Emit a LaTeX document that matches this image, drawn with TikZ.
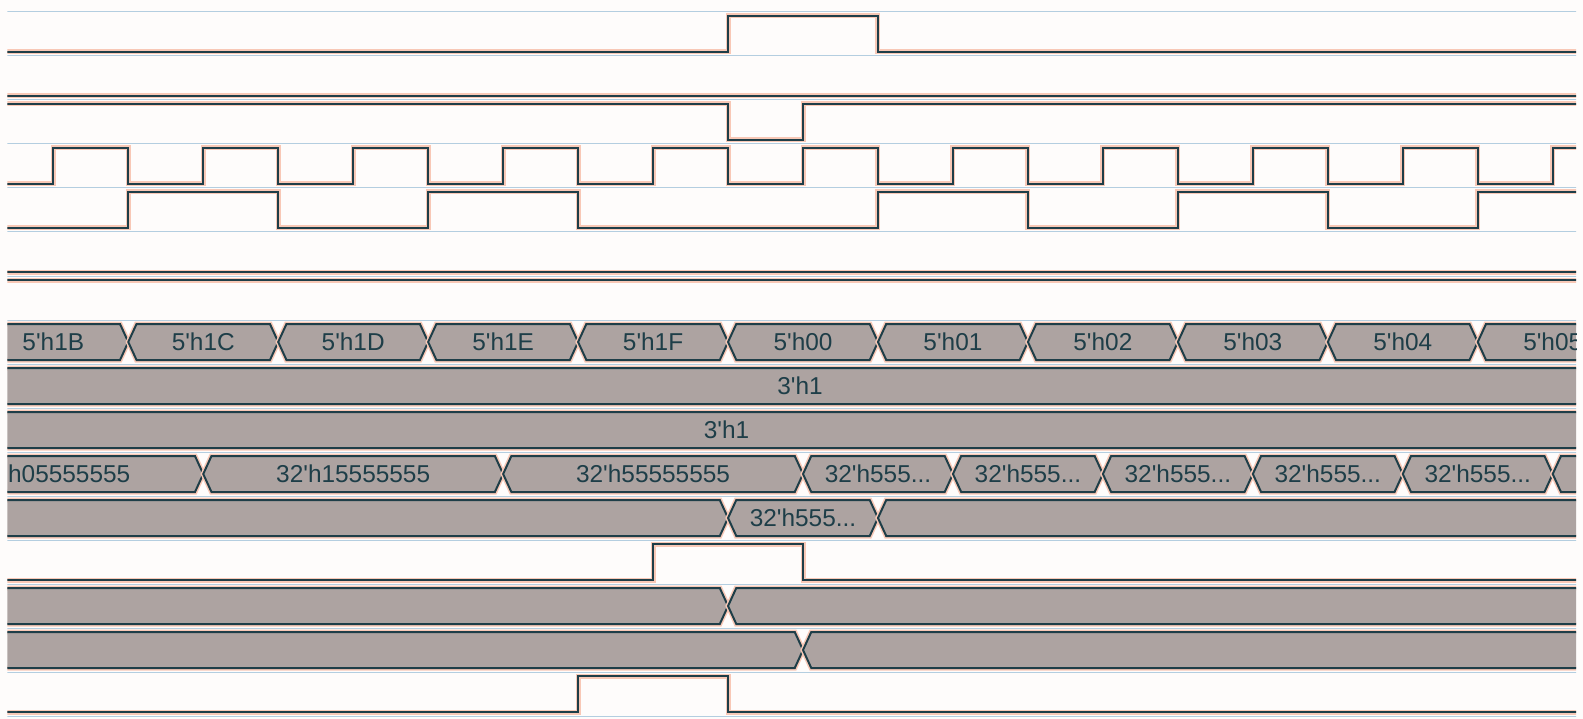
\documentclass[tikz,border=0pt]{standalone}
\usepackage{fontspec}
\newfontfamily\wavefont{Liberation Sans}
\usetikzlibrary{positioning}

\definecolor{wave}{RGB}{30,62,72}
\definecolor{busgray}{RGB}{173,163,161}
\definecolor{halo}{RGB}{248,200,182}
\definecolor{guide}{RGB}{180,206,224}
\definecolor{paper}{RGB}{254,252,251}

\newcommand{\tq}{\textquotesingle}
\newcommand{\taper}{0.11}
\newcommand{\busseg}[3]{\draw[bus] (#1+\taper,#3) -- (#2-\taper,#3) -- (#2,#3+18) -- (#2-\taper,#3+36) -- (#1+\taper,#3+36) -- (#1,#3+18) -- cycle;}

\begin{document}
\begin{tikzpicture}[
    x=74.97pt, y=-1pt,
    sig/.style={draw=wave, line width=2pt, preaction={draw=halo, line width=5pt}},
    bus/.style={fill=busgray, draw=wave, line width=2pt, preaction={draw=halo, line width=5pt}},
    guideline/.style={draw=guide, line width=1pt},
    val/.style={font=\wavefont\fontsize{24.4}{26}\selectfont, text=wave, inner sep=0pt}
]

\fill[paper] (-0.711,0) rectangle (20.404,719);
\useasboundingbox (-0.711,0) rectangle (20.404,719);

\begin{scope}
\clip (-0.614,0) rectangle (20.311,719);

% row guides
\foreach \r in {0,...,16}
    \draw[guideline] (-1,12+44*\r) -- (21,12+44*\r);

% single-bit signals
\draw[sig] (-1,52) -| (9,16) -| (11,52) -- (21,52);
\draw[sig] (-1,96) -- (21,96);
\draw[sig] (-1,104) -| (9,140) -| (10,104) -- (21,104);
\draw[sig] (-1,184) foreach \k in {0,2,...,20} { -| (\k,148) -| (\k+1,184) };
\draw[sig] (-1,228) -| (1,192) -| (3,228) -| (5,192) -| (7,228) -| (11,192)
    -| (13,228) -| (15,192) -| (17,228) -| (19,192) -- (21,192);
\draw[sig] (-1,272) -- (21,272);
\draw[sig] (-1,280) -- (21,280);
\draw[sig] (-1,580) -| (8,544) -| (10,580) -- (21,580);
\draw[sig] (-1,712) -| (7,676) -| (9,712) -- (21,712);

% buses
\foreach \a [evaluate=\a as \b using \a+2] in {-1,1,...,19}
    {\busseg{\a}{\b}{324}}
\busseg{-2}{22}{368}
\busseg{-2}{22}{412}
\foreach \a/\b in {-2/2,2/6,6/10,10/12,12/14,14/16,16/18,18/20,20/22}
    {\busseg{\a}{\b}{456}}
\foreach \a/\b in {-2/9,9/11,11/22}
    {\busseg{\a}{\b}{500}}
\foreach \a/\b in {-2/9,9/22}
    {\busseg{\a}{\b}{588}}
\foreach \a/\b in {-2/10,10/22}
    {\busseg{\a}{\b}{632}}

% values
\foreach \v [count=\i from 0] in {1B,1C,1D,1E,1F,00,01,02,03,04,05}
    \node[val] (cnt\i) at (2*\i,342) {5\tq h\v};
\node[val] (modeA) at (9.96,386) {3\tq h1};
\node[val] (modeB) at (8.98,430) {3\tq h1};
\node[val] (dat0) at (0,474) {32\tq h05555555};
\node[val] (dat1) at (4,474) {32\tq h15555555};
\node[val] (dat2) at (8,474) {32\tq h55555555};
\foreach \c [count=\i from 3] in {11,13,...,19}
    \node[val] (dat\i) at (\c,474) {32\tq h555...};
\node[val] (addr) at (10,518) {32\tq h555...};
\end{scope}

\end{tikzpicture}
\end{document}
